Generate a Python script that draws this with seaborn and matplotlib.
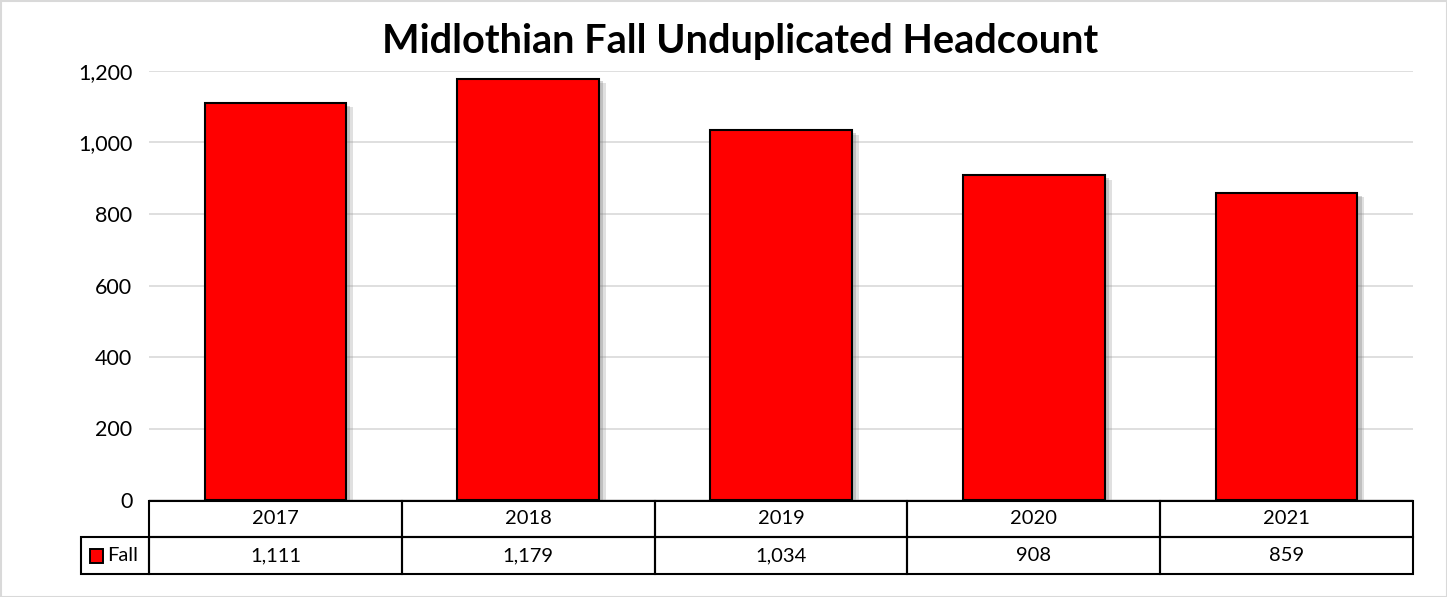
import pandas as pd
import seaborn as sns
import matplotlib.pyplot as plt
import matplotlib.patheffects as pe
from matplotlib.patches import Rectangle

years = ["2017", "2018", "2019", "2020", "2021"]
fall = [1111, 1179, 1034, 908, 859]
series_name = "Fall"
title = "Midlothian Fall Unduplicated Headcount"

df = pd.DataFrame({"year": years, "fall": fall})

sns.set_style("white")
plt.rcParams["font.family"] = ["Lato", "DejaVu Sans"]
plt.rcParams["text.color"] = "black"
plt.rcParams["ytick.color"] = "black"

W, H = 1447, 597
fig = plt.figure(figsize=(W / 100, H / 100), dpi=100)
ax = fig.add_axes([149 / W, 1 - 500 / H, (1413 - 149) / W, (500 - 71) / H])

sns.barplot(data=df, x="year", y="fall", color="#ff0000", edgecolor="black",
            linewidth=1.5, width=0.56, saturation=1, ax=ax, zorder=3)
for p in ax.patches:
    p.set_path_effects([pe.SimplePatchShadow(offset=(5, -3), shadow_rgbFace="#999999", alpha=0.3),
                        pe.SimplePatchShadow(offset=(3, -2), shadow_rgbFace="#777777", alpha=0.3),
                        pe.Normal()])

ax.set_ylim(0, 1200)
ax.set_xlim(-0.5, len(years) - 0.5)
ax.set_yticks(range(0, 1201, 200))
ax.set_yticklabels([f"{v:,}" for v in range(0, 1201, 200)], fontsize=15.5)
ax.tick_params(axis="y", length=0, pad=12, labelcolor="black")
ax.set_xticks([])
ax.set_xlabel("")
ax.set_ylabel("")
ax.grid(axis="y", color="#d9d9d9", linewidth=1.2, zorder=0)
for s in ax.spines.values():
    s.set_visible(False)

# data table below the plot
x0, x1 = 149, 1413
cw = (x1 - x0) / len(years)
r0, r1, r2 = 501, 537, 574
lw = 1.5


def fx(px):
    return px / W


def fy(py):
    return 1 - py / H


for i, (yr, v) in enumerate(zip(years, fall)):
    left = x0 + i * cw
    fig.add_artist(Rectangle((fx(left), fy(r1)), cw / W, (r1 - r0) / H,
                             fill=False, edgecolor="black", lw=lw, transform=fig.transFigure))
    fig.add_artist(Rectangle((fx(left), fy(r2)), cw / W, (r2 - r1) / H,
                             fill=False, edgecolor="black", lw=lw, transform=fig.transFigure))
    fig.text(fx(left + cw / 2), fy((r0 + r1) / 2), yr, ha="center", va="center", fontsize=14.5)
    fig.text(fx(left + cw / 2), fy((r1 + r2) / 2), f"{v:,}", ha="center", va="center", fontsize=14.5)

fig.add_artist(Rectangle((fx(81), fy(r2)), (x0 - 81) / W, (r2 - r1) / H,
                         fill=False, edgecolor="black", lw=lw, transform=fig.transFigure))
fig.add_artist(Rectangle((fx(90), fy(563)), 13 / W, 14 / H, facecolor="#ff0000",
                         edgecolor="black", lw=1.4, transform=fig.transFigure))
fig.text(fx(107), fy((r1 + r2) / 2), series_name, ha="left", va="center", fontsize=14.5)

fig.text(740 / W, fy(42), title, ha="center", va="center", fontsize=28.5, fontweight="bold")

fig.add_artist(Rectangle((0.5 / W, 0.5 / H), (W - 1) / W, (H - 1) / H, fill=False,
                         edgecolor="#d9d9d9", lw=1.5, transform=fig.transFigure))

fig.savefig("out.png", dpi=100, facecolor="white")
